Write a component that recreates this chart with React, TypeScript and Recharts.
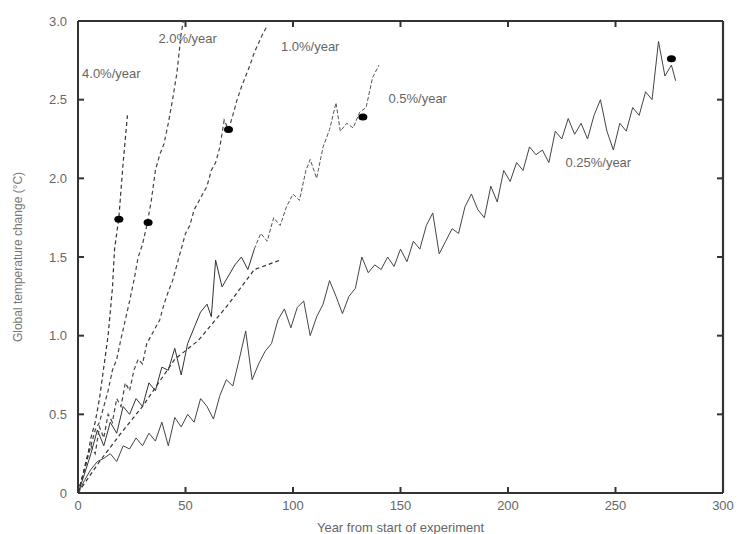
import React from "react";
import {
  ComposedChart,
  Line,
  Scatter,
  XAxis,
  YAxis,
  ReferenceDot,
  ReferenceLine,
  Label,
} from "recharts";

// 0.25%/year run
const yearsQ = [
  0, 3, 6, 9, 12, 15, 18, 21, 24, 27, 30, 33, 36, 39, 42, 45, 48, 51, 54, 57, 60, 63, 66, 69, 72, 75, 78, 81, 84, 87,
  90, 93, 96, 99, 102, 105, 108, 111, 114, 117, 120, 123, 126, 129, 132, 135, 138, 141, 144, 147, 150, 153, 156, 159,
  162, 165, 168, 171, 174, 177, 180, 183, 186, 189, 192, 195, 198, 201, 204, 207, 210, 213, 216, 219, 222, 225, 228,
  231, 234, 237, 240, 243, 246, 249, 252, 255, 258, 261, 264, 267, 270, 273, 276, 278,
];
const tempQ = [
  0, 0.08, 0.15, 0.2, 0.22, 0.25, 0.2, 0.3, 0.28, 0.35, 0.3, 0.38, 0.33, 0.45, 0.3, 0.48, 0.42, 0.5, 0.45, 0.6, 0.55,
  0.47, 0.62, 0.72, 0.68, 0.85, 1.03, 0.72, 0.82, 0.9, 0.95, 1.1, 1.17, 1.05, 1.18, 1.22, 1.0, 1.12, 1.2, 1.35, 1.25,
  1.14, 1.25, 1.3, 1.5, 1.4, 1.45, 1.42, 1.5, 1.44, 1.55, 1.47, 1.6, 1.55, 1.7, 1.78, 1.52, 1.6, 1.68, 1.65, 1.82, 1.9,
  1.8, 1.75, 1.95, 1.85, 2.05, 1.98, 2.1, 2.05, 2.2, 2.15, 2.18, 2.1, 2.3, 2.25, 2.38, 2.28, 2.35, 2.25, 2.4, 2.5, 2.3,
  2.18, 2.35, 2.3, 2.45, 2.4, 2.55, 2.5, 2.87, 2.65, 2.72, 2.62,
];

// 0.5%/year run
const yearsH = [
  0, 3, 6, 9, 12, 15, 18, 21, 24, 27, 30, 33, 36, 39, 42, 45, 48, 51, 54, 57, 60, 62, 64, 67, 70, 73, 76, 79, 82, 85,
  88, 91, 94, 97, 100, 103, 106, 108, 111, 114, 117, 120, 122, 125, 128, 131, 134, 137, 140,
];
const tempH = [
  0, 0.12, 0.25, 0.4, 0.3, 0.45, 0.38, 0.55, 0.5, 0.6, 0.55, 0.7, 0.65, 0.8, 0.78, 0.92, 0.75, 0.95, 1.05, 1.15, 1.2,
  1.12, 1.48, 1.31, 1.38, 1.45, 1.5, 1.42, 1.55, 1.65, 1.6, 1.75, 1.7, 1.82, 1.9, 1.86, 2.05, 2.12, 2.0, 2.2, 2.31,
  2.48, 2.3, 2.35, 2.32, 2.42, 2.45, 2.64, 2.72,
];

// smoother dashed curve under the 0.5% run
const yearsS = [0, 10, 20, 30, 45, 56, 70, 82, 94];
const tempS = [0, 0.2, 0.38, 0.55, 0.85, 0.97, 1.2, 1.42, 1.48];

// 1.0%/year run
const yearsOne = [
  0, 2, 4, 6, 8, 10, 12, 14, 16, 18, 20, 22, 24, 26, 28, 30, 32, 34, 36, 38, 40, 42, 44, 46, 48, 50, 52, 54, 56, 58, 60,
  62, 64, 66, 68, 70, 72, 74, 76, 78, 80, 82, 84, 86, 88,
];
const tempOne = [
  0, 0.1, 0.2, 0.3, 0.25, 0.42, 0.35, 0.5, 0.45, 0.6, 0.55, 0.7, 0.65, 0.78, 0.85, 0.82, 0.95, 1.0, 1.05, 1.1, 1.2, 1.28,
  1.35, 1.45, 1.55, 1.65, 1.7, 1.8, 1.85, 1.9, 1.95, 2.05, 2.1, 2.2, 2.37, 2.31, 2.4, 2.5, 2.58, 2.65, 2.72, 2.8, 2.86,
  2.92, 2.97,
];

// 2.0%/year run
const yearsTwo = [0, 2, 4, 6, 8, 10, 12, 14, 16, 18, 20, 22, 24, 26, 28, 30, 32, 34, 36, 38, 40, 42, 44, 46, 48, 49];
const tempTwo = [
  0, 0.1, 0.22, 0.3, 0.4, 0.45, 0.55, 0.65, 0.78, 0.85, 0.98, 1.1, 1.22, 1.35, 1.5, 1.58, 1.7, 1.85, 2.05, 2.15, 2.22,
  2.35, 2.5, 2.67, 2.92, 3.0,
];

// 4.0%/year run
const yearsFour = [0, 2, 4, 6, 8, 10, 12, 14, 16, 17, 19, 21, 23];
const tempFour = [0, 0.1, 0.2, 0.35, 0.45, 0.6, 0.8, 1.0, 1.3, 1.55, 1.75, 2.1, 2.4];

// CO2 doubling markers
const dotYears = [19, 32.6, 70, 132.5, 276];
const dotTemps = [1.74, 1.72, 2.31, 2.39, 2.76];

// run labels
const labelText = ["4.0%/year", "2.0%/year", "1.0%/year", "0.5%/year", "0.25%/year"];
const labelYears = [15.5, 51, 108, 158, 242];
const labelTemps = [2.67, 2.89, 2.84, 2.51, 2.1];

const xTicks = [0, 50, 100, 150, 200, 250, 300];
const yTicks = [0, 0.5, 1.0, 1.5, 2.0, 2.5, 3.0];

const zip = (xs: number[], ys: number[]) => xs.map((x, i) => ({ year: x, temp: ys[i] }));

const runQ = zip(yearsQ, tempQ);
const runH = zip(yearsH, tempH);
const runS = zip(yearsS, tempS);
const runOne = zip(yearsOne, tempOne);
const runTwo = zip(yearsTwo, tempTwo);
const runFour = zip(yearsFour, tempFour);
const dots = zip(dotYears, dotTemps);

const FONT = "'Liberation Sans', Arial, sans-serif";
const AXIS = "#333";
const TEXT = "#666";

// plot box size, used to mirror the inward ticks onto the top and right edges
const PLOT_W = 645;
const PLOT_H = 472;
const X_MARGIN = 7;
const Y_MARGIN = 11;

const DotShape = (p: any) => <ellipse cx={p.cx} cy={p.cy} rx={4.5} ry={3.5} fill="#000" />;

const BottomTick = (p: any) => {
  const base = p.y - X_MARGIN;
  return (
    <g>
      <line x1={p.x} x2={p.x} y1={base} y2={base - 6} stroke={AXIS} strokeWidth={2} />
      <line x1={p.x} x2={p.x} y1={base - PLOT_H} y2={base - PLOT_H + 6} stroke={AXIS} strokeWidth={2} />
      <text x={p.x} y={p.y} dy="0.75em" textAnchor="middle" fill={TEXT} fontSize={13} fontFamily={FONT}>
        {p.payload.value}
      </text>
    </g>
  );
};

const LeftTick = (p: any) => {
  const base = p.x + Y_MARGIN;
  const v = p.payload.value;
  return (
    <g>
      <line x1={base} x2={base + 6} y1={p.y} y2={p.y} stroke={AXIS} strokeWidth={2} />
      <line x1={base + PLOT_W} x2={base + PLOT_W - 6} y1={p.y} y2={p.y} stroke={AXIS} strokeWidth={2} />
      <text x={p.x} y={p.y} dy="0.35em" textAnchor="end" fill={TEXT} fontSize={13} fontFamily={FONT}>
        {v === 0 ? "0" : v.toFixed(1)}
      </text>
    </g>
  );
};

export default function App() {
  return (
    <div style={{ position: "absolute", left: 0, top: 0, background: "#fff", fontFamily: FONT }}>
      <ComposedChart width={738} height={534} margin={{ top: 21, right: 15, left: 10, bottom: 0 }}>
        <XAxis
          xAxisId="b"
          type="number"
          dataKey="year"
          domain={[0, 300]}
          ticks={xTicks}
          height={41}
          tickSize={0}
          tickMargin={X_MARGIN}
          tickLine={false}
          stroke={AXIS}
          strokeWidth={2}
          tick={BottomTick}
        >
          <Label
            value="Year from start of experiment"
            position="insideBottom"
            offset={2}
            style={{ fill: TEXT, fontSize: 13, fontFamily: FONT }}
          />
        </XAxis>
        <YAxis
          yAxisId="l"
          type="number"
          domain={[0, 3]}
          ticks={yTicks}
          width={68}
          tickSize={0}
          tickMargin={Y_MARGIN}
          tickLine={false}
          stroke={AXIS}
          strokeWidth={2}
          tick={LeftTick}
        >
          <Label
            value="Global temperature change (°C)"
            angle={-90}
            position="insideLeft"
            offset={8}
            style={{ fill: "#777", fontSize: 12, fontFamily: FONT, textAnchor: "middle" }}
          />
        </YAxis>

        {/* top and right edges of the frame */}
        <ReferenceLine xAxisId="b" yAxisId="l" y={3} stroke={AXIS} strokeWidth={2.2} />
        <ReferenceLine xAxisId="b" yAxisId="l" x={300} stroke={AXIS} strokeWidth={2.2} />

        <Line xAxisId="b" yAxisId="l" data={runQ} dataKey="temp" stroke="#444" strokeWidth={1} dot={false} isAnimationActive={false} />
        <Line xAxisId="b" yAxisId="l" data={runH.slice(0, 29)} dataKey="temp" stroke="#333" strokeWidth={1} dot={false} isAnimationActive={false} />
        <Line xAxisId="b" yAxisId="l" data={runH.slice(28)} dataKey="temp" stroke="#555" strokeWidth={1} strokeDasharray="4 2" dot={false} isAnimationActive={false} />
        <Line xAxisId="b" yAxisId="l" data={runS} dataKey="temp" stroke="#333" strokeWidth={1.2} strokeDasharray="4 3" dot={false} isAnimationActive={false} />
        <Line xAxisId="b" yAxisId="l" data={runOne} dataKey="temp" stroke="#444" strokeWidth={1.2} strokeDasharray="4 3" dot={false} isAnimationActive={false} />
        <Line xAxisId="b" yAxisId="l" data={runTwo} dataKey="temp" stroke="#444" strokeWidth={1.2} strokeDasharray="4 3" dot={false} isAnimationActive={false} />
        <Line xAxisId="b" yAxisId="l" data={runFour} dataKey="temp" stroke="#333" strokeWidth={1.2} strokeDasharray="4 3" dot={false} isAnimationActive={false} />
        <Scatter xAxisId="b" yAxisId="l" data={dots} dataKey="temp" shape={DotShape} isAnimationActive={false} />

        {labelText.map((t, i) => (
          <ReferenceDot
            key={t}
            xAxisId="b"
            yAxisId="l"
            x={labelYears[i]}
            y={labelTemps[i]}
            r={0}
            stroke="none"
            fill="none"
            label={{ value: t, position: "center", fill: TEXT, fontSize: 13, fontFamily: FONT }}
          />
        ))}
      </ComposedChart>
    </div>
  );
}
